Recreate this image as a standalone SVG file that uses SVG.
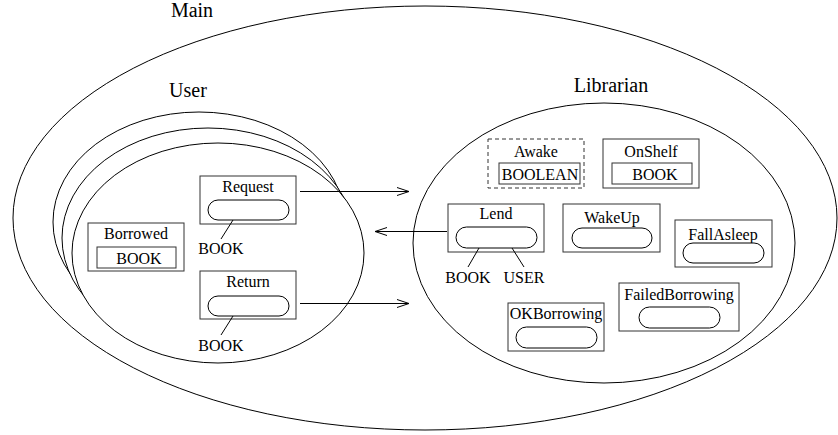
<svg xmlns="http://www.w3.org/2000/svg" width="838" height="435" viewBox="0 0 838 435">
<defs>
<style>
text{font-size:16px;fill:#000;text-anchor:middle}
.big{font-size:20px}
.ell{fill:none;stroke:#000;stroke-width:1}
.ellw{fill:#fff;stroke:#000;stroke-width:1}
.box{fill:#fff;stroke:#333;stroke-width:1}
.pill{fill:#fff;stroke:#000;stroke-width:1}
.ln{fill:none;stroke:#000;stroke-width:1}
</style>
<marker id="ah" markerUnits="userSpaceOnUse" markerWidth="14" markerHeight="10" refX="12" refY="5" orient="auto">
<path d="M0,1 L12,5 L0,9" fill="none" stroke="#000" stroke-width="1"/>
</marker>
</defs>
<rect width="838" height="435" fill="#fff"/>
<g font-family="Liberation Serif, DejaVu Serif, Times New Roman, serif">
<g id="main">
<ellipse class="ell" cx="425" cy="218" rx="412" ry="212"/>
<text class="big" x="192" y="17">Main</text>
</g>
<g id="user">
<ellipse class="ellw" cx="199" cy="222" rx="146" ry="110"/>
<ellipse class="ellw" cx="208" cy="238" rx="146" ry="110"/>
<ellipse class="ellw" cx="218" cy="253" rx="146" ry="110"/>
<text class="big" x="188" y="97">User</text>
</g>
<g id="librarian">
<ellipse class="ell" cx="604" cy="243" rx="191" ry="140"/>
<text class="big" x="611" y="92">Librarian</text>
</g>
<g id="request">
<rect class="box" x="200" y="176" width="96" height="48"/>
<text x="248" y="192">Request</text>
<rect class="pill" x="208" y="200" width="81" height="20" rx="10"/>
<line class="ln" x1="233" y1="220" x2="221" y2="239"/>
<text x="221" y="254">BOOK</text>
</g>
<g id="borrowed">
<rect class="box" x="88" y="223" width="96" height="48"/>
<text x="136" y="239">Borrowed</text>
<rect class="box" x="97" y="247" width="79" height="21"/>
<text x="139" y="264">BOOK</text>
</g>
<g id="return">
<rect class="box" x="200" y="271" width="96" height="48"/>
<text x="248" y="287">Return</text>
<rect class="pill" x="208" y="296" width="81" height="20" rx="10"/>
<line class="ln" x1="233" y1="316" x2="221" y2="335"/>
<text x="221" y="351">BOOK</text>
</g>
<g id="awake">
<rect class="box" x="488" y="139" width="96" height="49" stroke-dasharray="4,3"/>
<text x="536" y="157">Awake</text>
<rect class="box" x="499" y="163" width="81" height="21"/>
<text x="540" y="180">BOOLEAN</text>
</g>
<g id="onshelf">
<rect class="box" x="603" y="139" width="96" height="49"/>
<text x="651" y="157">OnShelf</text>
<rect class="box" x="612" y="163" width="80" height="21"/>
<text x="655" y="180">BOOK</text>
</g>
<g id="lend">
<rect class="box" x="448" y="204" width="96" height="48" stroke="#000" stroke-width="2"/>
<text x="496" y="219">Lend</text>
<rect class="pill" x="456" y="227" width="81" height="21" rx="10.5"/>
<line class="ln" x1="479" y1="248" x2="468" y2="267"/>
<line class="ln" x1="512" y1="248" x2="524" y2="267"/>
<text x="468" y="283">BOOK</text>
<text x="524" y="283">USER</text>
</g>
<g id="wakeup">
<rect class="box" x="563" y="204" width="97" height="48"/>
<text x="612" y="223">WakeUp</text>
<rect class="pill" x="572" y="228" width="80" height="20" rx="10"/>
</g>
<g id="fallasleep">
<rect class="box" x="675" y="220" width="97" height="47"/>
<text x="723" y="240">FallAsleep</text>
<rect class="pill" x="683" y="243" width="81" height="20" rx="10"/>
</g>
<g id="failedborrowing">
<rect class="box" x="619" y="283" width="120" height="48"/>
<text x="679" y="300">FailedBorrowing</text>
<rect class="pill" x="639" y="307" width="81" height="21" rx="10.5"/>
</g>
<g id="okborrowing">
<rect class="box" x="508" y="303" width="96" height="48"/>
<text x="556" y="319">OKBorrowing</text>
<rect class="pill" x="516" y="327" width="81" height="21" rx="10.5"/>
</g>
</g>
<g id="connectors">
<line class="ln" x1="300" y1="191.5" x2="409" y2="191.5" marker-end="url(#ah)"/>
<line class="ln" x1="300" y1="303.5" x2="409" y2="303.5" marker-end="url(#ah)"/>
<line class="ln" x1="447" y1="231.5" x2="375" y2="231.5" marker-end="url(#ah)"/>
</g>
</svg>
